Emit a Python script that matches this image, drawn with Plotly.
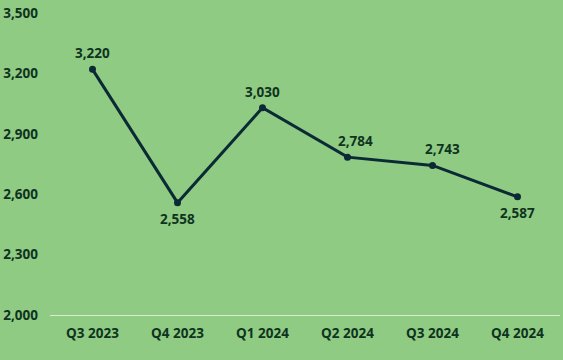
import plotly.graph_objects as go

quarters = ["Q3 2023", "Q4 2023", "Q1 2024", "Q2 2024", "Q3 2024", "Q4 2024"]
values = [3220, 2558, 3030, 2784, 2743, 2587]
label_above = [True, False, True, True, True, False]
y_ticks = [2000, 2300, 2600, 2900, 3200, 3500]

# label placement offsets (px), styling only
label_xshift = [0, 0, 0, 8, 10, 0]

bg = "#8FCB82"
line_color = "#0C2A36"
text_color = "#0F3321"
font_family = "Open Sans, Noto Sans, sans-serif"

fig = go.Figure()
fig.add_trace(go.Scatter(
    x=quarters, y=values,
    mode="lines+markers",
    line=dict(color=line_color, width=3),
    marker=dict(color=line_color, size=7),
    cliponaxis=False,
    hoverinfo="skip",
))

for q, v, above, xs in zip(quarters, values, label_above, label_xshift):
    fig.add_annotation(
        x=q, y=v, text=f"{v:,}", showarrow=False,
        yshift=16 if above else -16, xshift=xs,
        font=dict(family=font_family, size=13.5, color=text_color, weight="bold"),
    )

fig.update_layout(
    width=563, height=360,
    margin=dict(l=50, r=3, t=13, b=45),
    paper_bgcolor=bg, plot_bgcolor=bg,
    showlegend=False,
    font=dict(family=font_family, size=13, color=text_color),
)
fig.update_xaxes(
    range=[-0.5, 5.5],
    showgrid=False, zeroline=False,
    showline=True, linecolor="#D8ECD3", linewidth=1,
    tickfont=dict(family=font_family, size=13.5, color=text_color, weight="bold"),
    ticks="", ticklabelstandoff=6,
)
fig.update_yaxes(
    range=[2000, 3500], tickvals=y_ticks,
    ticktext=[f"{v:,}" for v in y_ticks],
    showgrid=False, zeroline=False, showline=False,
    tickfont=dict(family=font_family, size=13.5, color=text_color, weight="bold"),
    ticks="", ticklabelstandoff=11,
)

fig.write_html("out.html")
